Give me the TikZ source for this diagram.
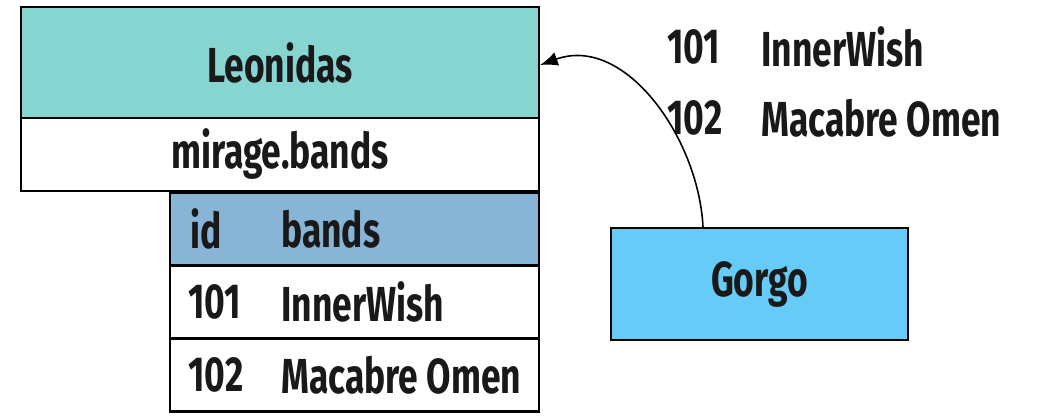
\documentclass[tikz,border=0pt]{standalone}
\usepackage{fontspec}
\setmainfont{Fira Sans}[FakeStretch=0.72]
\usetikzlibrary{positioning,arrows.meta}
\definecolor{leocol}{HTML}{87D5D0}
\definecolor{headcol}{HTML}{88B5D5}
\definecolor{gorgocol}{HTML}{66CCF7}

\begin{document}
\begin{tikzpicture}[x=0.02cm,y=-0.02cm,
    every node/.style={font=\fontsize{28}{32}\selectfont\bfseries,text=black!90},
    box/.style={draw,line width=1.4pt,inner sep=0pt},
    txt/.style={anchor=west,inner sep=0pt}]
  \useasboundingbox (0,0) rectangle (1040,416);

  \node[box,fill=leocol,minimum width=10.36cm,minimum height=2.22cm]
    (leo) at (280,62.5) {Leonidas};
  \node[box,fill=white,minimum width=10.36cm,minimum height=1.46cm]
    (mirage) at (280,154.5) {mirage.bands};

  \node[box,fill=headcol,minimum width=7.38cm,minimum height=1.46cm]
    (head) at (354.5,229) {};
  \node[box,fill=white,minimum width=7.38cm,minimum height=1.46cm]
    (row1) at (354.5,302) {};
  \node[box,fill=white,minimum width=7.38cm,minimum height=1.46cm]
    (row2) at (354.5,375) {};
  \node[txt] (hid) at (190,229) {id};
  \node[txt] (hband) at (281,229) {bands};
  \node[txt] (id1) at (188,302) {101};
  \node[txt] (band1) at (281,302) {InnerWish};
  \node[txt] (id2) at (188,375) {102};
  \node[txt] (band2) at (281,375) {Macabre Omen};

  \node[box,fill=gorgocol,minimum width=5.94cm,minimum height=2.24cm]
    (gorgo) at (759.5,284) {Gorgo};

  \node[txt] (rid1) at (667,47) {101};
  \node[txt] (rband1) at (761,47) {InnerWish};
  \node[txt] (rid2) at (667,118) {102};
  \node[txt] (rband2) at (761,118) {Macabre Omen};

  \draw[-{Latex[length=10pt,width=8pt]},line width=0.9pt]
    ([xshift=-1.13cm]gorgo.north) to[out=93,in=20] ([yshift=-0.05cm]leo.east);
\end{tikzpicture}
\end{document}
